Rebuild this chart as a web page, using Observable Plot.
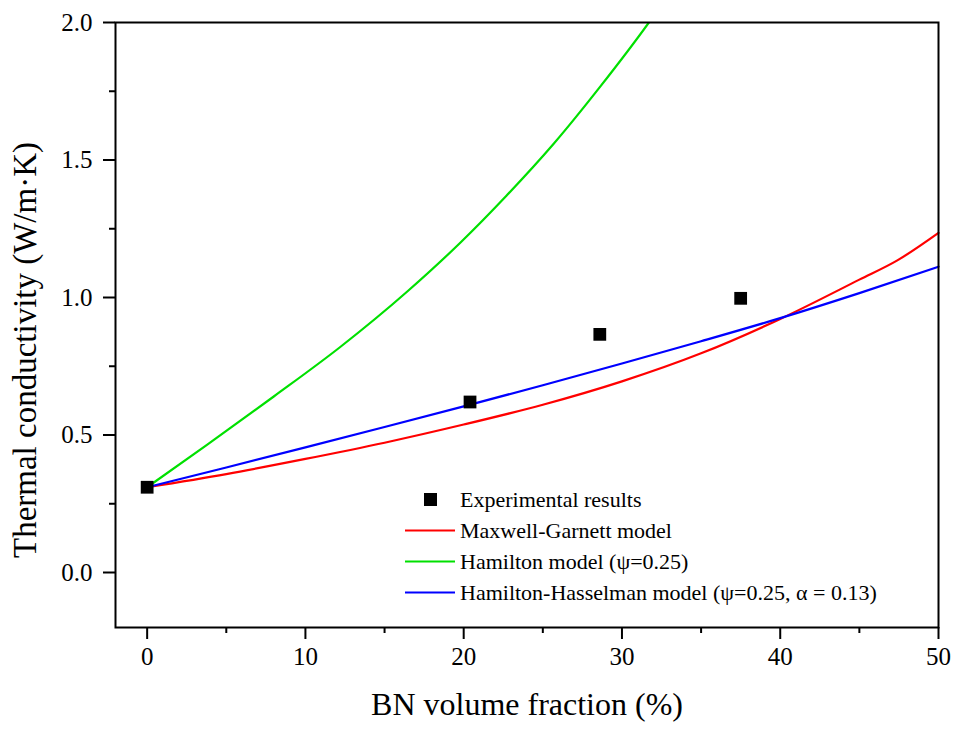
<!DOCTYPE html>
<html>
<head>
<meta charset="utf-8">
<script src="https://cdn.jsdelivr.net/npm/d3@7"></script>
<script src="https://cdn.jsdelivr.net/npm/@observablehq/plot@0.6"></script>
<style>
  html, body { margin: 0; padding: 0; background: #fff; }
  #wrap { position: relative; width: 958px; height: 731px; font-family: "Liberation Serif", "Times New Roman", serif; }
  #legend { position: absolute; left: 403px; top: 484px; font-size: 22px; color: #000; line-height: 1; }
  .row { display: flex; align-items: center; height: 31px; white-space: nowrap; }
  .sw { width: 54px; height: 31px; margin-right: 3px; }
</style>
</head>
<body>
<div id="wrap"><div id="chart"></div><div id="legend"></div></div>
<script>
// Experimental results
const expX = [0, 20.4, 28.6, 37.5];
const expY = [0.31, 0.62, 0.866, 0.997];

// Maxwell-Garnett model
const mgX = [0, 5, 10, 15, 20, 25, 30, 35, 40, 45, 47.4, 50];
const mgY = [0.31, 0.358, 0.413, 0.472, 0.538, 0.61, 0.695, 0.797, 0.922, 1.065, 1.135, 1.235];

// Hamilton model (psi = 0.25)
const hX = [0, 3.8, 8, 12.2, 16.4, 19.8, 22.7, 25.7, 28.6, 31.7, 32.5];
const hY = [0.31, 0.465, 0.64, 0.82, 1.02, 1.2, 1.37, 1.56, 1.765, 2.0, 2.065];

// Hamilton-Hasselman model (psi = 0.25, alpha = 0.13)
const hhX = [0, 5, 10, 15, 20, 25, 30, 35, 40, 45, 50];
const hhY = [0.31, 0.382, 0.455, 0.529, 0.604, 0.681, 0.760, 0.841, 0.925, 1.016, 1.112];

const xMajor = [0, 10, 20, 30, 40, 50];
const xMinor = [5, 15, 25, 35, 45];
const yMajor = [0.0, 0.5, 1.0, 1.5, 2.0];
const yMinor = [0.25, 0.75, 1.25, 1.75];

const xTitle = "BN volume fraction (%)";
const yTitle = "Thermal conductivity (W/m\u00B7K)";

const seriesNames = ["Experimental results", "Maxwell-Garnett model", "Hamilton model (\u03C8=0.25)", "Hamilton-Hasselman model (\u03C8=0.25, \u03B1 = 0.13)"];
const seriesColors = ["#000000", "#ff0000", "#00e000", "#0000ff"];

const toRows = (xs, ys) => xs.map((x, i) => ({x, y: ys[i]}));
const exp = toRows(expX, expY);
const mg = toRows(mgX, mgY);
const ham = toRows(hX, hY);
const hh = toRows(hhX, hhY);

const chart = Plot.plot({
  width: 958,
  height: 731,
  marginLeft: 115,
  marginRight: 20,
  marginTop: 22,
  marginBottom: 104,
  style: {fontFamily: "Liberation Serif, Times New Roman, serif", fontSize: "25px", color: "#000", background: "#fff"},
  x: {domain: [-2, 50]},
  y: {domain: [-0.2, 2.0]},
  marks: [
    Plot.line(mg, {x: "x", y: "y", stroke: seriesColors[1], strokeWidth: 2.2, curve: "monotone-x"}),
    Plot.line(ham, {x: "x", y: "y", stroke: seriesColors[2], strokeWidth: 2.2, curve: "monotone-x", clip: true}),
    Plot.line(hh, {x: "x", y: "y", stroke: seriesColors[3], strokeWidth: 2.2, curve: "monotone-x"}),
    Plot.dot(exp, {x: "x", y: "y", symbol: "square", r: 7.2, fill: seriesColors[0], stroke: null}),
    Plot.frame({stroke: "#000", strokeWidth: 2}),
    Plot.axisX({ticks: xMajor, tickSize: 12, tickPadding: 8, strokeWidth: 2, label: null, tickFormat: d3.format("d"), fontSize: 25}),
    Plot.axisX({ticks: xMinor, tickSize: 6, strokeWidth: 2, label: null, tickFormat: () => ""}),
    Plot.axisY({ticks: yMajor, tickSize: 12, tickPadding: 11, strokeWidth: 2, label: null, tickFormat: d3.format(".1f"), fontSize: 25}),
    Plot.axisY({ticks: yMinor, tickSize: 6, strokeWidth: 2, label: null, tickFormat: () => ""}),
    Plot.text([xTitle], {frameAnchor: "bottom", dy: 87, fontSize: 32, textAnchor: "middle", text: d => d}),
    Plot.text([yTitle], {frameAnchor: "left", dx: -90, dy: 25, rotate: -90, fontSize: 33, textAnchor: "middle", text: d => d})
  ]
});
document.getElementById("chart").appendChild(chart);

// Legend
const legend = document.getElementById("legend");
seriesNames.forEach((name, i) => {
  const row = document.createElement("div");
  row.className = "row";
  const sw = document.createElementNS("http://www.w3.org/2000/svg", "svg");
  sw.setAttribute("class", "sw");
  sw.setAttribute("width", 54);
  sw.setAttribute("height", 31);
  if (i === 0) {
    sw.innerHTML = `<rect x="21" y="9" width="13" height="13" fill="${seriesColors[i]}"/>`;
  } else {
    sw.innerHTML = `<line x1="2" x2="52" y1="15.5" y2="15.5" stroke="${seriesColors[i]}" stroke-width="2.2"/>`;
  }
  row.appendChild(sw);
  const t = document.createElement("span");
  t.textContent = name;
  row.appendChild(t);
  legend.appendChild(row);
});
</script>
</body>
</html>
